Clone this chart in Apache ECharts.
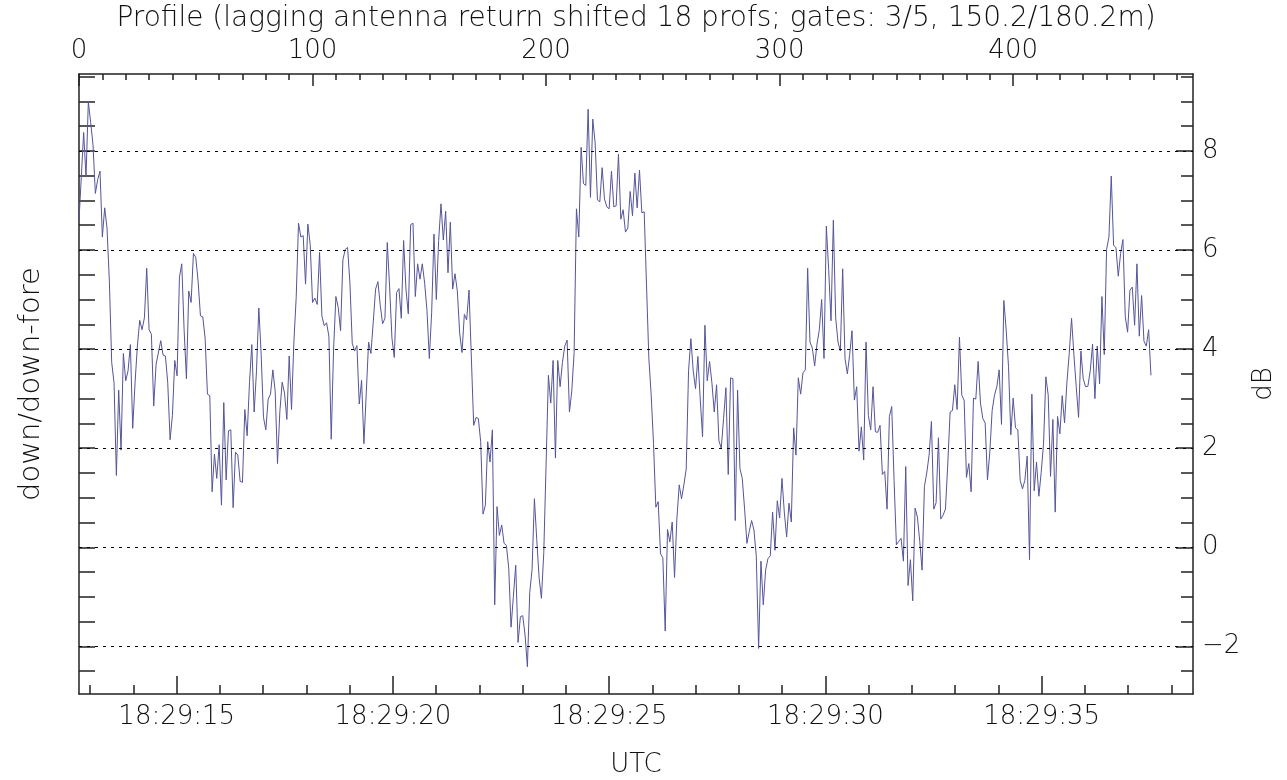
<!DOCTYPE html>
<html>
<head>
<meta charset="utf-8">
<script src="https://cdn.jsdelivr.net/npm/echarts@6.0.0/dist/echarts.min.js"></script>
<style>
  html, body { margin: 0; padding: 0; background: #fff; }
  #chart { width: 1287px; height: 780px; }
</style>
</head>
<body>
<div id="chart"></div>
<script>
// down/down-fore ratio in dB, one value per profile (null = not read)
var dB = [
  6.6, null, 8.37, 7.47, 8.99, 8.57, 8.12, 7.14, 7.42, 7.59,
  6.26, 6.85, 6.44, 5.37, 3.73, 3.32, 1.45, 3.17, 1.96, 3.91,
  3.36, 3.56, 4.09, 2.40, 3.32, 4.06, 4.58, 4.39, 4.63, 5.63,
  4.39, 4.30, 2.85, 3.69, null, 4.17, 3.88, 3.86, 3.32, 2.17,
  2.66, 3.77, 3.46, 5.45, 5.72, 4.39, 3.40, 5.17, 4.94, 5.93,
  5.85, 5.37, 4.67, 4.65, 4.22, 3.09, 3.06, 1.12, 1.88, 1.39,
  2.07, 0.85, 2.92, 1.36, 2.35, 2.37, 0.80, 1.92, 1.86, 1.33,
  1.31, 2.78, 2.25, 3.32, 4.09, 2.73, 3.56, 4.83, 3.89, 2.62,
  2.37, 2.99, 3.09, 3.58, 3.15, 1.69, 2.74, 3.33, 3.11, 2.58,
  3.86, 2.78, 4.14, 5.04, 6.54, 6.26, 6.29, 5.31, 6.52, 6.11,
  4.94, 5.03, 4.90, 5.95, 4.67, 4.47, 4.53, 4.26, 2.18, 3.98,
  5.06, 4.84, 4.37, 5.80, 6.01, 6.05, 5.33, 4.12, 3.96, 4.07,
  2.89, 3.37, 2.09, 3.11, 4.14, 3.91, 4.55, 5.21, 5.36, 4.88,
  4.51, 4.62, 6.15, 5.25, 4.22, 3.83, 5.14, 5.22, 4.62, 6.19,
  5.21, 4.71, 6.51, 6.54, 5.06, 5.72, 5.41, 5.72, 5.33, 4.78,
  3.81, 4.73, 6.32, 5.00, 6.19, 6.93, 6.20, 6.78, 5.54, 6.56,
  5.21, 5.52, 5.17, 4.32, 3.93, 4.70, 4.59, 5.19, null, 2.46,
  2.62, 2.60, 2.13, 0.67, 0.85, 2.13, 1.72, 2.37, -1.16, 0.82,
  0.24, 0.45, 0.08, 0.04, -0.42, -1.61, -0.99, -0.36, -1.92, -1.40,
  -1.38, -1.77, -2.41, -0.91, -0.45, 0.98, 0.16, -0.61, -1.03, -0.12,
  null, 3.47, 2.91, 3.77, 1.80, 3.77, 3.24, 3.73, 4.06, 4.18,
  2.73, 3.15, 3.93, 6.83, 6.26, 8.07, 7.34, 7.30, 8.84, 7.06,
  8.64, 8.16, 7.01, 6.97, 7.66, 7.03, 6.87, 6.83, 7.59, 6.87,
  6.89, 7.93, 6.62, 6.81, 6.36, 6.44, 7.18, 6.69, 7.55, 6.85,
  7.61, 6.75, 6.77, null, 3.81, 3.07, 2.09, 0.81, 0.92, -0.13,
  -0.21, -1.69, 0.36, 0.11, 0.51, -0.61, 0.57, 1.26, 0.98, 1.26,
  1.58, 3.56, 4.21, 3.56, 3.20, 3.85, 2.99, 2.23, 4.48, 3.36,
  3.75, 3.32, 2.73, 3.28, 2.15, 2.00, 2.60, 3.22, 1.47, 3.42,
  3.40, 0.54, 3.17, 1.59, 1.39, 0.77, 0.08, 0.32, 0.54, 0.35,
  -0.17, -2.04, -0.28, -1.16, -0.46, -0.23, -0.17, 0.71, -0.06, 0.94,
  0.59, 1.39, 0.71, 0.21, 0.89, 0.51, 2.41, 1.86, 3.42, 3.09,
  3.52, 3.58, 5.63, 4.14, 4.02, 3.66, 4.10, 4.39, 5.00, 3.81,
  6.48, 5.60, 4.57, 6.60, 4.63, 4.14, 3.96, 5.62, 3.81, 3.50,
  3.89, 4.37, 2.97, 3.24, 1.94, 2.43, 1.76, 4.14, 2.66, 2.37,
  3.24, 2.33, 2.32, 2.46, 1.47, 1.53, 0.77, 2.64, 2.84, 1.35,
  0.05, 0.12, 0.18, -0.28, 1.63, -0.77, -0.25, -1.08, 0.79, 0.61,
  0.12, -0.46, 1.23, 1.50, 1.86, 2.54, 0.77, 0.90, 2.21, 0.57,
  0.65, 0.77, 1.68, 2.73, 2.76, 3.28, 2.78, 4.24, 3.07, 2.97,
  1.41, 1.69, 1.12, 3.01, 2.99, 3.75, 2.91, 2.60, 2.51, 1.36,
  1.92, 2.76, 3.07, 3.24, 3.58, 2.48, 4.98, 4.39, 3.65, 2.27,
  3.01, 2.41, 2.37, 1.35, 1.18, 1.35, 1.84, -0.25, 3.09, 1.14,
  1.72, 1.03, 1.51, 2.09, 3.44, 3.07, 1.43, 2.58, 0.71, 2.64,
  2.29, 3.06, 2.51, 3.32, 3.91, 4.62, 3.89, 3.24, 2.62, 3.96,
  3.40, 3.24, 3.25, 3.56, 4.10, 3.00, 4.06, 3.30, 5.06, 3.89,
  6.01, 6.26, 7.49, 6.09, 6.05, 5.47, 5.93, 6.21, 4.65, 4.34,
  5.19, 5.25, 4.48, 5.72, 4.26, 5.08, 4.16, 4.06, 4.39, 3.47
];

// axis ticks / labels
var profTicks = [0, 100, 200, 300, 400];      // top axis (profile number)
var secTicks = [15, 20, 25, 30, 35];           // bottom axis, seconds of 18:29
var dbTicks = [-2, 0, 2, 4, 6, 8];             // right axis labels + dotted lines

var profRange = [0, 477];
var secRange = [12.74, 38.5];
var dbRange = [-2.96, 9.55];

var profMinor = [], secMinor = [], dbHalf = [], dbMinor = [];
for (var p = 10; p < profRange[1]; p += 10) { if (p % 100) profMinor.push(p); }
for (var s = 13; s < secRange[1]; s++) { if (s % 5) secMinor.push(s); }
for (var h = -2.5; h < dbRange[1]; h += 0.5) {
  dbHalf.push(h);
  if (dbTicks.indexOf(h) < 0) dbMinor.push(h);
}

var lineData = [];
dB.forEach(function (v, i) { if (v !== null) lineData.push([i, v]); });

var FONT = 'DejaVu Sans';
var txt = { fontFamily: FONT, fontSize: 26, fontWeight: 200, color: '#111' };
var txtTitle = { fontFamily: FONT, fontSize: 28, fontWeight: 200, color: '#111' };
var txtBig = { fontFamily: FONT, fontSize: 29, fontWeight: 200, color: '#111' };
var frame = { color: '#222', width: 1.5 };
var GRID = { left: 79, right: 94, top: 74, bottom: 86, outerBoundsMode: 'none' };

function axisBase(extra) {
  var a = {
    type: 'value',
    splitLine: { show: false },
    axisLine: { show: false, onZero: false, lineStyle: frame },
    axisLabel: { show: false },
    axisTick: { show: true, inside: true, lineStyle: frame }
  };
  for (var k in extra) a[k] = extra[k];
  return a;
}
var lineOn = { show: true, onZero: false, lineStyle: frame };
var lineOff = { show: false, onZero: false };

var chart = echarts.init(document.getElementById('chart'));
var option = {
  animation: false,
  backgroundColor: '#fff',
  grid: [Object.assign({}, GRID), Object.assign({}, GRID)],
  xAxis: [
    axisBase({
      gridIndex: 0, position: 'top', min: profRange[0], max: profRange[1],
      name: 'Profile (lagging antenna return shifted 18 profs; gates: 3/5, 150.2/180.2m)',
      nameLocation: 'middle', nameGap: 35, nameTextStyle: txtTitle,
      axisLine: lineOn,
      axisTick: { show: true, inside: true, length: 12, customValues: profTicks, lineStyle: frame },
      axisLabel: Object.assign({ show: true, margin: 10, customValues: profTicks }, txt)
    }),
    axisBase({
      gridIndex: 0, position: 'bottom', min: secRange[0], max: secRange[1],
      name: 'UTC', nameLocation: 'middle', nameGap: 58, nameTextStyle: txt,
      axisLine: lineOn,
      axisTick: { show: true, inside: true, length: 18, customValues: secTicks, lineStyle: frame },
      axisLabel: Object.assign({
        show: true, margin: 10, customValues: secTicks,
        formatter: function (v) { return '18:29:' + v; }
      }, txt)
    }),
    axisBase({
      gridIndex: 1, position: 'top', min: profRange[0], max: profRange[1],
      axisLine: lineOff,
      axisTick: { show: true, inside: true, length: 6, customValues: profMinor, lineStyle: frame }
    }),
    axisBase({
      gridIndex: 1, position: 'bottom', min: secRange[0], max: secRange[1],
      axisLine: lineOff,
      axisTick: { show: true, inside: true, length: 9, customValues: secMinor, lineStyle: frame }
    })
  ],
  yAxis: [
    axisBase({
      gridIndex: 0, position: 'left', min: dbRange[0], max: dbRange[1],
      name: 'down/down-fore', nameLocation: 'middle', nameGap: 33, nameTextStyle: txtBig,
      axisLine: lineOn,
      axisTick: { show: true, inside: true, length: 16, customValues: dbHalf, lineStyle: frame }
    }),
    axisBase({
      gridIndex: 0, position: 'right', min: dbRange[0], max: dbRange[1],
      name: 'dB', nameLocation: 'middle', nameGap: 57, nameTextStyle: txt,
      axisLine: lineOn,
      axisTick: { show: true, inside: true, length: 17, customValues: dbTicks, lineStyle: frame },
      axisLabel: Object.assign({
        show: true, margin: 9, customValues: dbTicks,
        formatter: function (v) { return v < 0 ? '\u2212' + (-v) : String(v); }
      }, txt)
    }),
    axisBase({
      gridIndex: 1, position: 'right', min: dbRange[0], max: dbRange[1],
      axisLine: lineOff,
      axisTick: { show: true, inside: true, length: 12, customValues: dbMinor, lineStyle: frame }
    })
  ],
  series: [{
    type: 'line',
    xAxisIndex: 0,
    yAxisIndex: 0,
    data: lineData,
    showSymbol: false,
    symbol: 'none',
    lineStyle: { color: '#55559a', width: 1 },
    markLine: {
      silent: true,
      symbol: 'none',
      label: { show: false },
      lineStyle: { color: '#000', width: 1, type: [3, 5] },
      data: dbTicks.map(function (v) { return { yAxis: v }; })
    }
  }]
};
chart.setOption(option);
</script>
</body>
</html>
